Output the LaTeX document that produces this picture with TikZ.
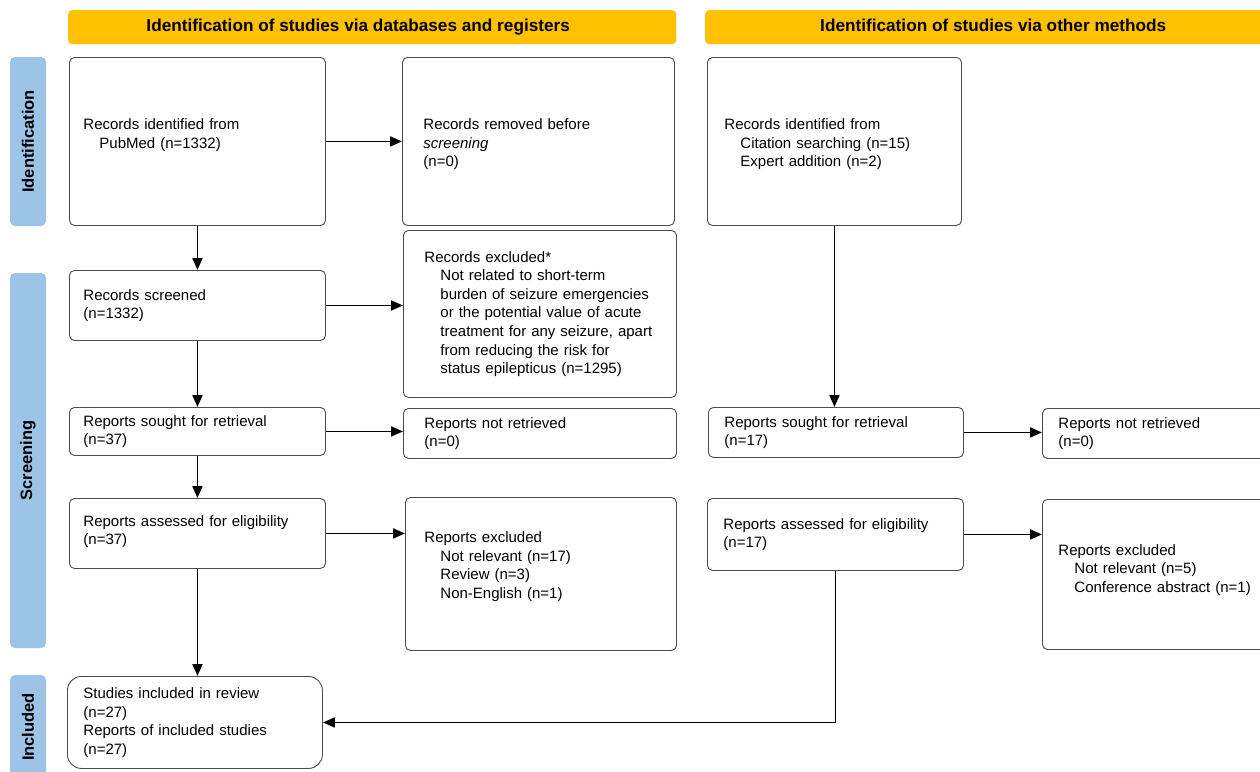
\documentclass[tikz,border=0pt]{standalone}
\usepackage{fontspec}
\setmainfont{Liberation Sans}
\usetikzlibrary{arrows.meta}

\definecolor{headgold}{HTML}{FFC000}
\definecolor{sideblue}{HTML}{9DC3E6}
\newcommand{\ind}{\hspace*{16pt}}
\newcommand{\lift}[1]{\rule[-#1]{0pt}{#1}}
\newcommand{\drop}[1]{\rule{0pt}{#1}}

\begin{document}
\begin{tikzpicture}[x=1pt,y=-1pt,
  box/.style={draw=black!70,line width=0.9pt,rounded corners=5pt,anchor=north west,
    align=left,inner xsep=14pt,inner ysep=0pt,font=\fontsize{15}{18.6}\selectfont},
  head/.style={fill=headgold,rounded corners=4pt,anchor=north west,inner sep=0pt,
    minimum height=34,text height=12.3pt,text depth=4pt,
    font=\fontsize{17.2}{20}\selectfont\bfseries},
  side/.style={fill=sideblue,rounded corners=5pt,rotate=90,inner sep=0pt,
    minimum height=36,font=\fontsize{16.5}{20}\selectfont\bfseries},
  link/.style={line width=1.9pt,-{Triangle[length=12pt,width=10pt]}}]

\useasboundingbox[fill=white] (0,0) rectangle (1260,771);

% Headers
\node[head,minimum width=608] (hdb) at (68,10) {\hspace*{-28pt}Identification of studies via databases and registers};
\node[head,minimum width=576] (hother) at (705,10) {Identification of studies via other methods};

% Stages
\node[side,minimum width=169] (sident) at (28,141.5) {Identification};
\node[side,minimum width=375] (sscreen) at (28,460.5) {Screening};
\node[side,minimum width=104] (sincl) at (28,727) {Included};

% Databases and registers
\node[box,text width=228,minimum height=168] (pubmed) at (69,57) {Records identified from\\\ind PubMed (n=1332)\lift{16pt}};
\node[box,inner xsep=21pt,text width=230,minimum height=168] (removed) at (402,57) {\drop{17pt}Records removed before\\\textit{screening}\\(n=0)};
\node[box,text width=228,minimum height=70] (screened) at (69,270) {Records screened\\(n=1332)};
\node[box,inner xsep=21pt,text width=231,minimum height=167] (excluded) at (403,230) {Records excluded*\\\ind Not related to short-term\\\ind burden of seizure emergencies\\\ind or the potential value of acute\\\ind treatment for any seizure, apart\\\ind from reducing the risk for\\\ind status epilepticus (n=1295)};
\node[box,text width=228,minimum height=48] (sought) at (69,407) {Reports sought for retrieval\\(n=37)};
\node[box,inner xsep=21pt,text width=231,minimum height=50] (notret) at (403,408) {Reports not retrieved\\(n=0)};
\node[box,text width=228,minimum height=70] (assessed) at (69,498) {Reports assessed for eligibility\\(n=37)\lift{7pt}};
\node[box,inner xsep=19pt,text width=233,minimum height=153] (repexcl) at (405,497) {Reports excluded\\\ind Not relevant (n=17)\\\ind Review (n=3)\\\ind Non-English (n=1)\lift{18pt}};
\node[box,inner xsep=16pt,rounded corners=14pt,text width=223,minimum height=92] (included) at (67,676) {Studies included in review\\(n=27)\\Reports of included studies\\(n=27)};

% Other methods
\node[box,inner xsep=17pt,text width=220,minimum height=168] (other) at (707,57) {\drop{17pt}Records identified from\\\ind Citation searching (n=15)\\\ind Expert addition (n=2)};
\node[box,inner xsep=16pt,text width=223,minimum height=50] (osought) at (708,407) {Reports sought for retrieval\\(n=17)};
\node[box,inner xsep=16pt,text width=208,minimum height=50] (onotret) at (1042,408) {Reports not retrieved\\(n=0)};
\node[box,inner xsep=16pt,text width=224,minimum height=72] (oassessed) at (707,498) {Reports assessed for eligibility\\(n=17)};
\node[box,inner xsep=16pt,text width=208,minimum height=150] (oexcl) at (1042,499) {Reports excluded\\\ind Not relevant (n=5)\\\ind Conference abstract (n=1)\lift{12pt}};

% Arrows
\draw[link] (pubmed.east) -- (removed.west);
\draw[link] (pubmed) -- (screened);
\draw[link] (screened.east) -- (screened.east -| excluded.west);
\draw[link] (screened) -- (sought);
\draw[link] (sought.east) -- (sought.east -| notret.west);
\draw[link] (sought) -- (assessed);
\draw[link] (assessed.east) -- (assessed.east -| repexcl.west);
\draw[link] (assessed.south) -- (assessed.south |- included.north);
\draw[link] (other.south) -- (other.south |- osought.north);
\draw[link] (osought.east) -- (osought.east -| onotret.west);
\draw[link] (oassessed.east) -- (oassessed.east -| oexcl.west);
\draw[link] (oassessed.south) |- (included.east);

\end{tikzpicture}
\end{document}
